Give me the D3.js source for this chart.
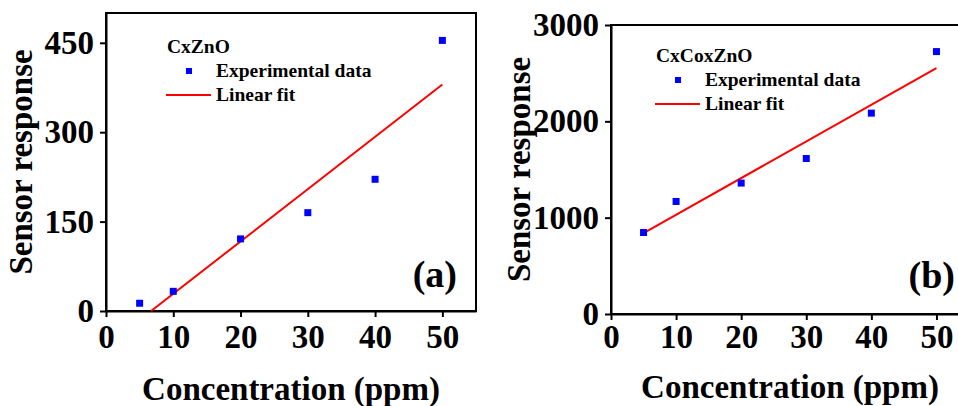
<!DOCTYPE html>
<html>
<head>
<meta charset="utf-8">
<script src="https://cdn.jsdelivr.net/npm/d3@7"></script>
<style>
html,body{margin:0;padding:0;background:#fff;overflow:hidden;}
text{font-family:"Liberation Serif","Times New Roman",serif;font-weight:bold;fill:#000;}
</style>
</head>
<body>
<script>
// ---- data ----
const concentration = [5, 10, 20, 30, 40, 50];
const responseCxZnO = [13, 33, 121, 165, 221, 454];
const responseCxCoxZnO = [846, 1168, 1359, 1614, 2085, 2724];
const fitXCxZnO = [6.7, 50];
const fitYCxZnO = [0, 380];
const fitXCxCoxZnO = [5, 50];
const fitYCxCoxZnO = [840, 2552];
const xTicks = [0, 10, 20, 30, 40, 50];
const yTicksCxZnO = [0, 150, 300, 450];
const yTicksCxCoxZnO = [0, 1000, 2000, 3000];

const W = 958, H = 406;
const svg = d3.select("body").append("svg").attr("width", W).attr("height", H);

function panel(o) {
  const x = d3.scaleLinear().domain([0, 55]).range([o.left, o.right]);
  const y = d3.scaleLinear().domain(o.yDomain).range([o.bottom, o.top]);
  const g = svg.append("g");

  // frame
  g.append("rect").attr("x", o.left).attr("y", o.top)
    .attr("width", o.right - o.left).attr("height", o.bottom - o.top)
    .attr("fill", "none").attr("stroke", "#000").attr("stroke-width", 2);

  const xa = g.append("g").attr("transform", `translate(0,${o.bottom})`)
    .call(d3.axisBottom(x).tickValues(xTicks).tickSizeInner(6).tickSizeOuter(0).tickPadding(o.xPad));
  const ya = g.append("g").attr("transform", `translate(${o.left},0)`)
    .call(d3.axisLeft(y).tickValues(o.yTicks).tickSizeInner(6).tickSizeOuter(0).tickPadding(6).tickFormat(d3.format("d")));
  [xa, ya].forEach(a => {
    a.select(".domain").attr("stroke-width", 2);
    a.selectAll(".tick line").attr("stroke-width", 2);
    a.selectAll(".tick text").style("font-size", "33px").style("font-family", '"Liberation Serif",serif').style("font-weight", "bold");
  });

  // linear fit
  const fit = o.fitX.map((v, i) => [v, o.fitY[i]]);
  g.append("path").datum(fit)
    .attr("d", d3.line().x(d => x(d[0])).y(d => y(d[1])))
    .attr("fill", "none").attr("stroke", "#ff0000").attr("stroke-width", 2);

  // data points
  const s = 7;
  g.selectAll("rect.pt").data(concentration).join("rect").attr("class", "pt")
    .attr("x", d => x(d) - s / 2)
    .attr("y", (d, i) => y(o.values[i]) - s / 2)
    .attr("width", s).attr("height", s).attr("fill", "#0000ff");

  // axis titles
  g.append("text").attr("x", (o.left + o.right) / 2).attr("y", o.xTitleY)
    .attr("text-anchor", "middle").style("font-size", "33px").text("Concentration (ppm)");
  g.append("text").attr("transform", `translate(${o.yTitleX},${(o.top + o.bottom) / 2}) rotate(-90)`)
    .attr("text-anchor", "middle").style("font-size", "33px").text("Sensor response");

  // legend
  const L = o.legend;
  g.append("text").attr("x", L.x).attr("y", L.y).style("font-size", "19.5px").text(o.name);
  g.append("rect").attr("x", L.x + 22 - 3).attr("y", L.y + 18 - 3).attr("width", 6).attr("height", 6).attr("fill", "#0000ff");
  g.append("text").attr("x", L.x + 49).attr("y", L.y + 24).style("font-size", "19.5px").text("Experimental data");
  g.append("line").attr("x1", L.x - 1).attr("x2", L.x + 44).attr("y1", L.y + 42).attr("y2", L.y + 42)
    .attr("stroke", "#ff0000").attr("stroke-width", 2);
  g.append("text").attr("x", L.x + 49).attr("y", L.y + 48).style("font-size", "19.5px").text("Linear fit");

  // panel label
  g.append("text").attr("x", o.labelX).attr("y", o.labelY).attr("text-anchor", "end")
    .style("font-size", "38px").text(o.label);
}

panel({
  left: 106, right: 476, top: 13, bottom: 311,
  yDomain: [0, 500], yTicks: yTicksCxZnO, xPad: 8,
  values: responseCxZnO, fitX: fitXCxZnO, fitY: fitYCxZnO,
  xTitleY: 400, yTitleX: 32,
  name: "CxZnO", legend: {x: 167, y: 53},
  label: "(a)", labelX: 457, labelY: 287
});

panel({
  left: 611, right: 969, top: 25, bottom: 314,
  yDomain: [0, 3000], yTicks: yTicksCxCoxZnO, xPad: 5,
  values: responseCxCoxZnO, fitX: fitXCxCoxZnO, fitY: fitYCxCoxZnO,
  xTitleY: 398, yTitleX: 530,
  name: "CxCoxZnO", legend: {x: 656, y: 62},
  label: "(b)", labelX: 955, labelY: 288
});
</script>
</body>
</html>
